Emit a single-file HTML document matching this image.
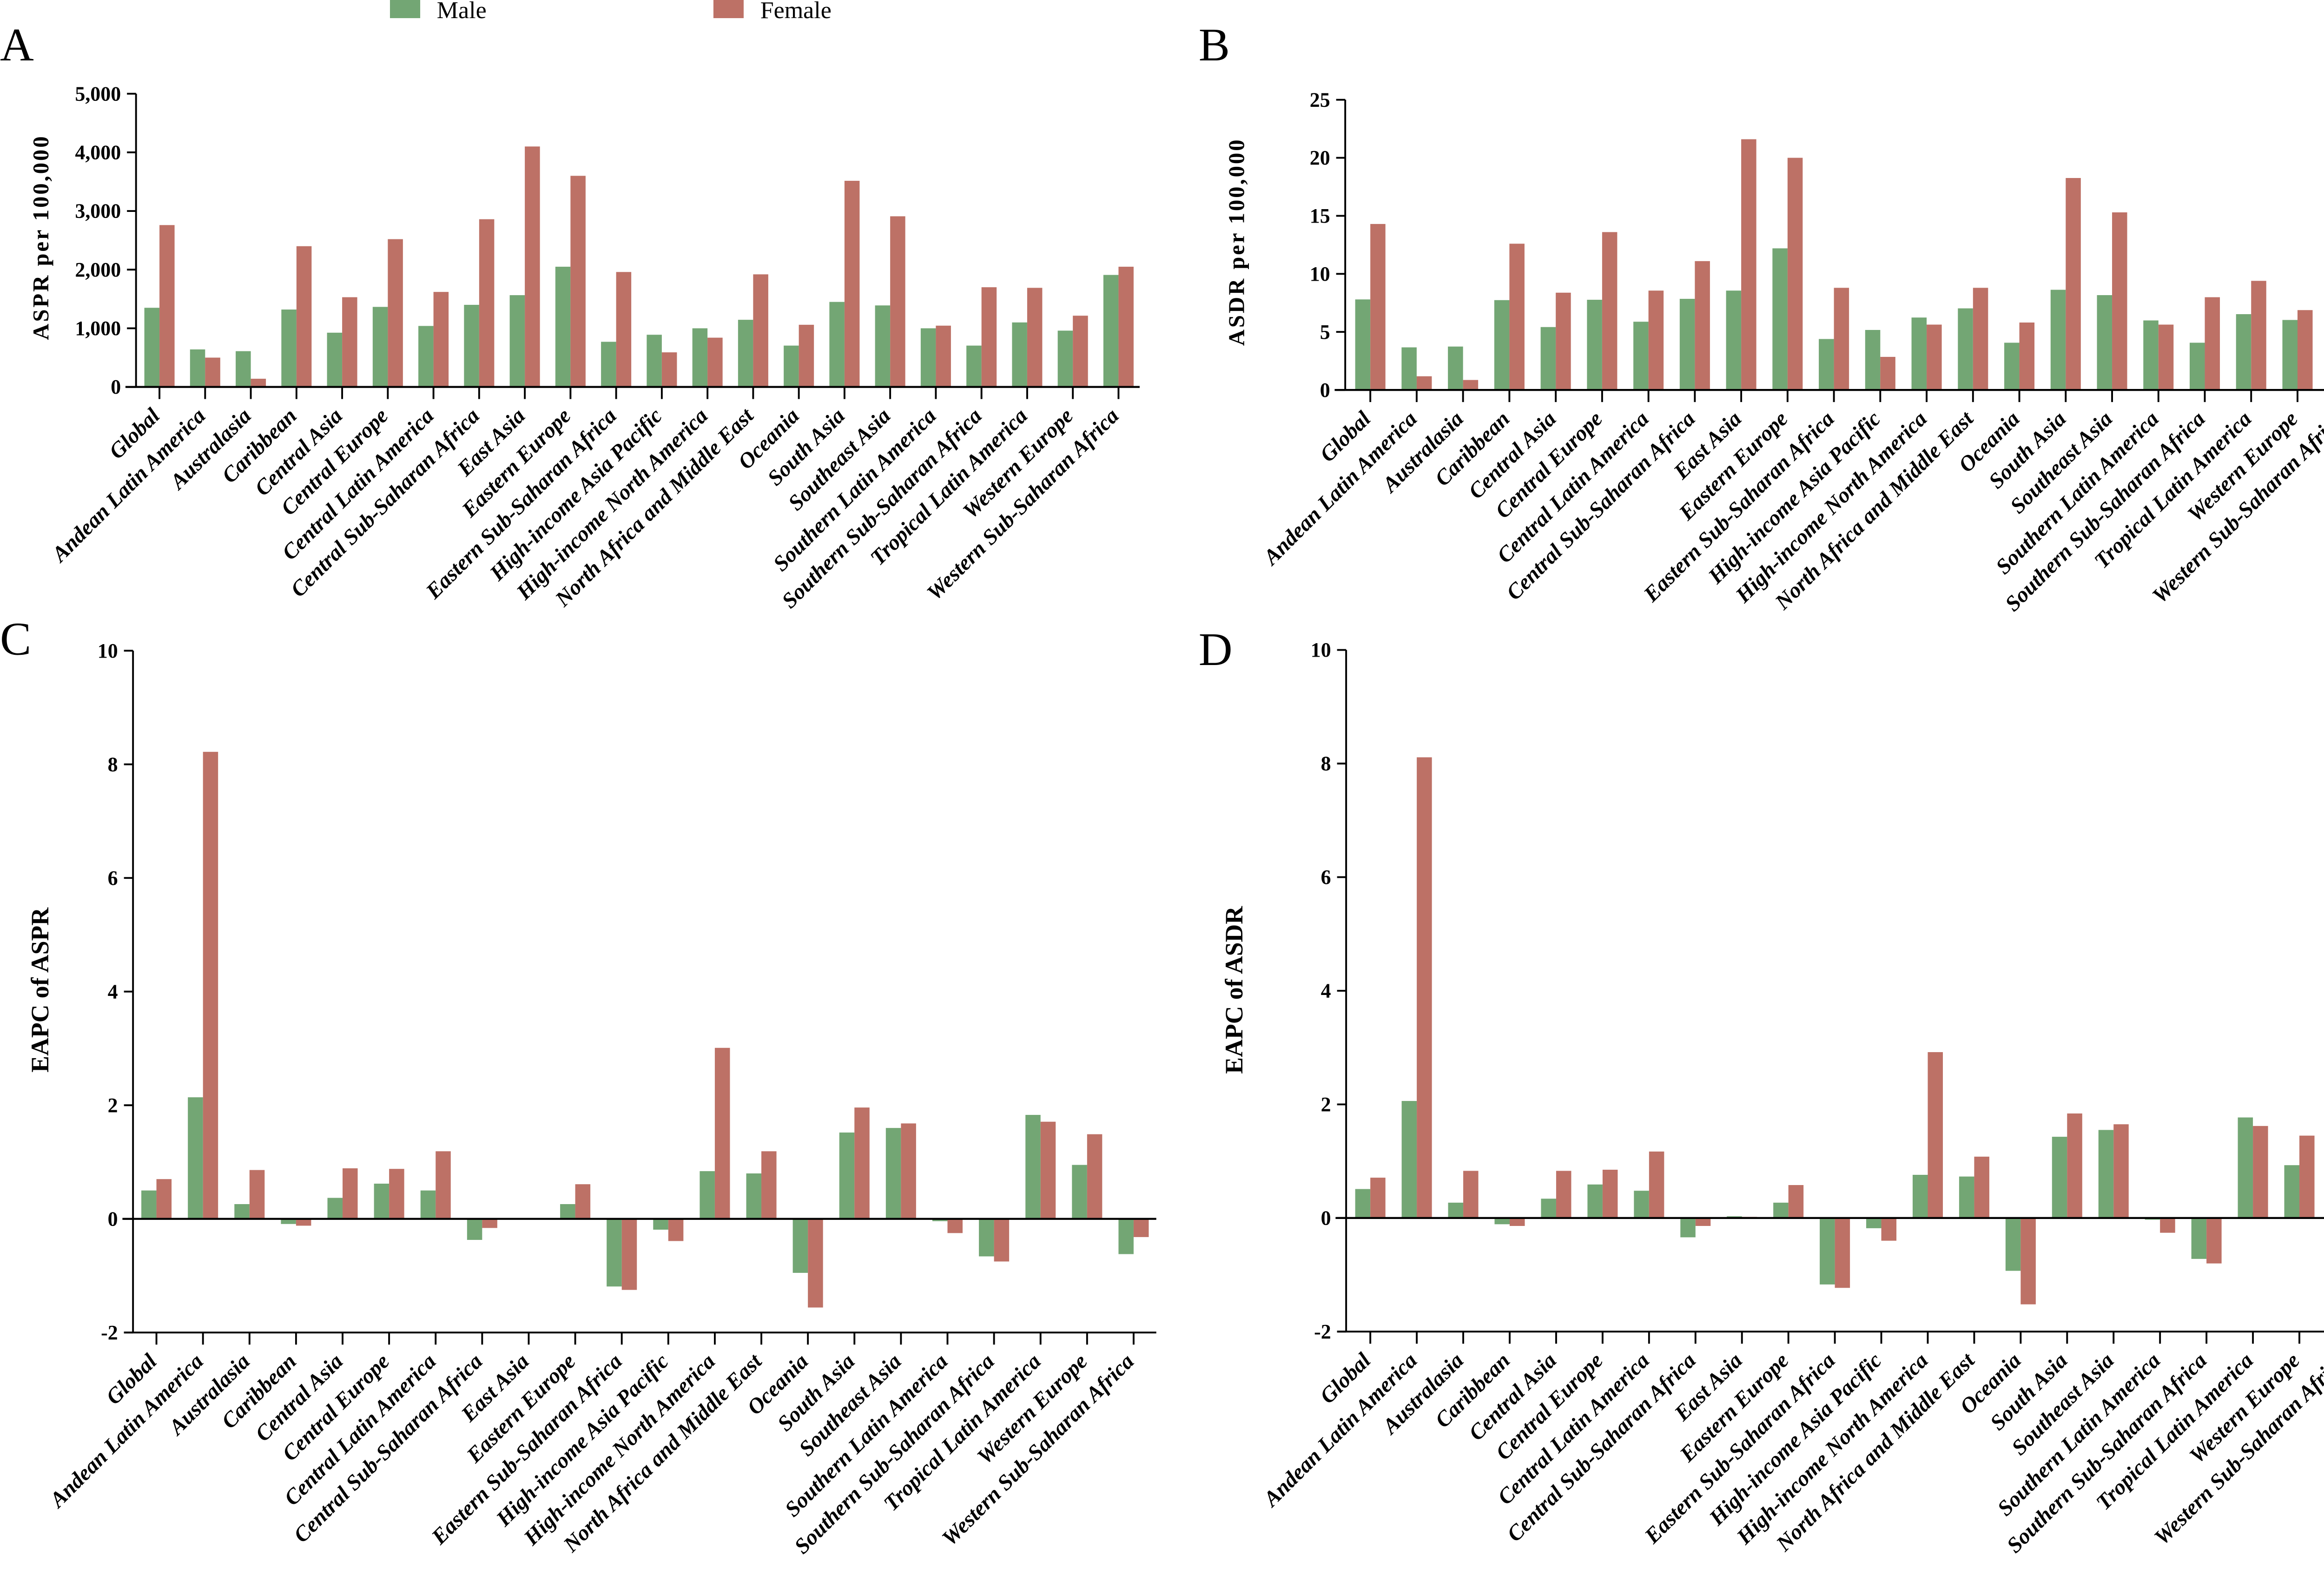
<!DOCTYPE html>
<html><head><meta charset="utf-8"><style>
html,body{margin:0;padding:0;background:#fff;overflow:hidden;width:5099px;height:3402px;}
svg{display:block;}
text{font-family:"Liberation Serif",serif;}
</style></head><body>
<svg id="fig" width="5099" height="3402" viewBox="0 0 1568 1046" preserveAspectRatio="none" xmlns="http://www.w3.org/2000/svg">
<g>
<rect x="258" y="0" width="20" height="12" fill="#73a674"/>
<text x="289" y="12" font-size="16">Male</text>
<rect x="472" y="0" width="20" height="12" fill="#bd7166"/>
<text x="503" y="12" font-size="16">Female</text>
</g>
<text x="0" y="40" font-size="31">A</text>
<text x="793" y="40" font-size="31">B</text>
<text x="0" y="433" font-size="31">C</text>
<text x="793" y="440" font-size="31">D</text>
</svg>
<script>
const categories = ["Global","Andean Latin America","Australasia","Caribbean","Central Asia","Central Europe","Central Latin America","Central Sub-Saharan Africa","East Asia","Eastern Europe","Eastern Sub-Saharan Africa","High-income Asia Pacific","High-income North America","North Africa and Middle East","Oceania","South Asia","Southeast Asia","Southern Latin America","Southern Sub-Saharan Africa","Tropical Latin America","Western Europe","Western Sub-Saharan Africa"];
const asprMale = [1350,640,610,1320,925,1365,1040,1400,1565,2050,770,890,1000,1145,705,1450,1390,1000,705,1100,960,1910];
const asprFemale = [2760,500,140,2400,1530,2520,1620,2860,4100,3600,1960,590,840,1920,1060,3515,2910,1045,1700,1690,1215,2050];
const asdrMale = [7.8,3.67,3.74,7.74,5.42,7.77,5.88,7.85,8.56,12.2,4.39,5.17,6.24,7.03,4.07,8.63,8.17,5.99,4.07,6.53,6.03,10.77];
const asdrFemale = [14.3,1.18,0.86,12.6,8.38,13.6,8.56,11.1,21.6,20.0,8.8,2.85,5.63,8.8,5.81,18.26,15.3,5.63,7.99,9.4,6.88,9.4];
const eapcAsprMale = [0.50,2.14,0.26,-0.09,0.37,0.62,0.50,-0.37,0.0,0.26,-1.19,-0.19,0.84,0.80,-0.95,1.52,1.60,-0.04,-0.66,1.83,0.95,-0.62];
const eapcAsprFemale = [0.70,8.22,0.86,-0.12,0.89,0.88,1.19,-0.16,0.0,0.61,-1.25,-0.39,3.01,1.19,-1.56,1.96,1.68,-0.25,-0.75,1.71,1.49,-0.32];
const eapcAsdrMale = [0.51,2.06,0.27,-0.11,0.34,0.59,0.48,-0.34,0.03,0.27,-1.17,-0.18,0.76,0.73,-0.93,1.43,1.55,-0.03,-0.72,1.77,0.93,-0.59];
const eapcAsdrFemale = [0.71,8.11,0.83,-0.14,0.83,0.85,1.17,-0.14,0.02,0.58,-1.23,-0.40,2.92,1.08,-1.52,1.84,1.65,-0.26,-0.80,1.62,1.45,-0.30];
const ticksA = [0,1000,2000,3000,4000,5000];
const tickLabelsA = ["0","1,000","2,000","3,000","4,000","5,000"];
const ticksB = [0,5,10,15,20,25];
const tickLabelsB = ["0","5","10","15","20","25"];
const ticksE = [-2,0,2,4,6,8,10];
const tickLabelsE = ["-2","0","2","4","6","8","10"];

const NS = "http://www.w3.org/2000/svg";
const svg = document.getElementById('fig');
function mk(tag, attrs, parent){const e=document.createElementNS(NS,tag);for(const k in attrs)e.setAttribute(k,attrs[k]);(parent||svg).appendChild(e);return e;}

function panel(cfg){
  const g = mk('g',{});
  
  
  const ys = v => cfg.yBot + (v - cfg.min)/(cfg.max - cfg.min)*(cfg.yTop - cfg.yBot);
  const xs = i => cfg.x0 + i*(cfg.x1 - cfg.x0)/(categories.length-1);
  const y0 = ys(0);
  categories.forEach((c,i)=>{
    const t = xs(i);
    [[cfg.male[i],'#73a674',t-10,'male'],[cfg.female[i],'#bd7166',t,'female']].forEach(([v,col,x,s])=>{
      const yv = ys(v);
      const r = mk('rect',{x:x,y:Math.min(yv,y0),width:10,height:Math.max(Math.abs(yv-y0),0.01),fill:col},g);
      
      
    });
  });
  const ya = mk('line',{x1:cfg.ax,y1:cfg.yTop,x2:cfg.ax,y2:cfg.yBot,stroke:'#000','stroke-width':1.2},g);
  
  
  cfg.ticks.forEach((v,k)=>{
    const y = ys(v);
    mk('line',{x1:cfg.ax-6,y1:y,x2:cfg.ax,y2:y,stroke:'#000','stroke-width':1.2},g);
    const tl = mk('text',{x:cfg.ax-10,y:y+4.5,'font-size':13.5,'font-weight':'bold','text-anchor':'end'},g);
    tl.textContent = cfg.labels[k];
    
    
  });
  const xa = mk('line',{x1:cfg.ax-7,y1:y0,x2:cfg.axEnd,y2:y0,stroke:'#000','stroke-width':1.3},g);
  
  
  if(cfg.min<0){ mk('line',{x1:cfg.ax-6,y1:cfg.yBot,x2:cfg.axEnd,y2:cfg.yBot,stroke:'#000','stroke-width':1.2},g); }
  categories.forEach((c,i)=>{
    const t = xs(i);
    mk('line',{x1:t,y1:cfg.yBot,x2:t,y2:cfg.yBot+8,stroke:'#000','stroke-width':1.2},g);
    const lx = t+1, ly = cfg.yBot+20;
    const lab = mk('text',{x:lx,y:ly,'font-size':14.5,'font-weight':'bold','font-style':'italic','text-anchor':'end',transform:`rotate(-45 ${lx} ${ly})`},g);
    lab.textContent = c;
    
    
  });
  const tt = mk('text',{x:cfg.tx,y:cfg.ty,'font-size':cfg.tfs,'font-weight':'bold','text-anchor':'middle','letter-spacing':cfg.tls,transform:`rotate(-90 ${cfg.tx} ${cfg.ty})`},g);
  tt.textContent = cfg.title;
  
  
}
panel({name:'panel-a-aspr',male:asprMale,female:asprFemale,min:0,max:5000,yTop:62,yBot:256,ax:90,axEnd:754,x0:105.5,x1:740,ticks:ticksA,labels:tickLabelsA,title:'ASPR per 100,000',tx:32,ty:157,tfs:15,tls:1.2});
panel({name:'panel-b-asdr',male:asdrMale,female:asdrFemale,min:0,max:25,yTop:66,yBot:258,ax:890,axEnd:1564,x0:906.6,x1:1550.7,ticks:ticksB,labels:tickLabelsB,title:'ASDR per 100,000',tx:823,ty:160,tfs:15,tls:1.2});
panel({name:'panel-c-eapc-aspr',male:eapcAsprMale,female:eapcAsprFemale,min:-2,max:10,yTop:430.5,yBot:881.6,ax:88,axEnd:765,x0:103.5,x1:750,ticks:ticksE,labels:tickLabelsE,title:'EAPC of ASPR',tx:32,ty:655,tfs:16.5,tls:0});
panel({name:'panel-d-eapc-asdr',male:eapcAsdrMale,female:eapcAsdrFemale,min:-2,max:10,yTop:430,yBot:881,ax:890.6,axEnd:1568,x0:906.6,x1:1552,ticks:ticksE,labels:tickLabelsE,title:'EAPC of ASDR',tx:822,ty:655,tfs:16.5,tls:0});
</script>
</body></html>
